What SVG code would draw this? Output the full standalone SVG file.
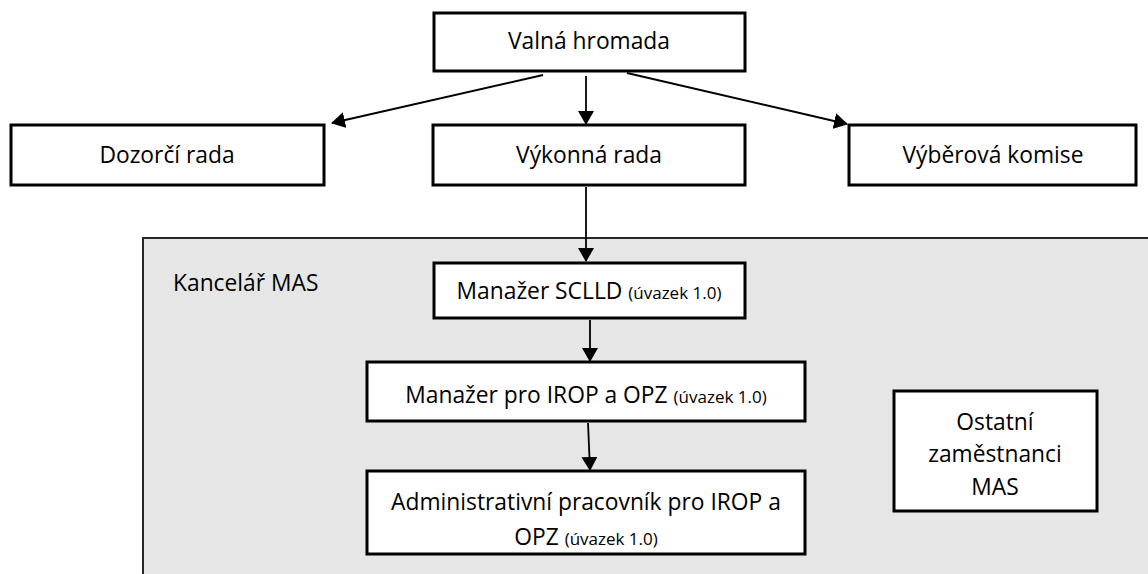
<svg xmlns="http://www.w3.org/2000/svg" width="1148" height="574" viewBox="0 0 1148 574">
<style>
.box{fill:#fff;stroke:#000;stroke-width:3}
.t{font-family:"Open Sans","Noto Sans",sans-serif;font-size:22.8px;fill:#000;text-anchor:middle}
.s{font-size:17px}
.c{stroke:#000;stroke-width:1.8;fill:none;marker-end:url(#ah)}
</style>
<defs>
<marker id="ah" markerWidth="14" markerHeight="16" refX="13" refY="8" orient="auto" markerUnits="userSpaceOnUse">
<path d="M0,0 L14,8 L0,16 Z" fill="#000"/>
</marker>
</defs>
<rect x="143" y="238" width="1010" height="345" fill="#e6e6e6" stroke="#262626" stroke-width="2"/>
<text x="173" y="291" class="t" style="text-anchor:start">Kancelář MAS</text>
<g id="valna"><rect class="box" x="434" y="13" width="311" height="58"/><text class="t" x="589" y="49">Valná hromada</text></g>
<g id="dozorci"><rect class="box" x="11" y="125" width="313" height="60"/><text class="t" x="167" y="163">Dozorčí rada</text></g>
<g id="vykonna"><rect class="box" x="433" y="125" width="312" height="60"/><text class="t" x="589" y="163">Výkonná rada</text></g>
<g id="vyberova"><rect class="box" x="849" y="125" width="287" height="60"/><text class="t" x="993" y="163">Výběrová komise</text></g>
<g id="sclld"><rect class="box" x="434" y="263" width="311" height="55"/><text class="t" x="589" y="299">Manažer SCLLD <tspan class="s">(úvazek 1.0)</tspan></text></g>
<g id="irop"><rect class="box" x="367" y="362" width="438" height="59"/><text class="t" x="586" y="403">Manažer pro IROP a OPZ <tspan class="s">(úvazek 1.0)</tspan></text></g>
<g id="admin"><rect class="box" x="367" y="471" width="438" height="83"/><text class="t" x="586" y="510">Administrativní pracovník pro IROP a</text><text class="t" x="586" y="545">OPZ <tspan class="s">(úvazek 1.0)</tspan></text></g>
<g id="ostatni"><rect class="box" x="894" y="391" width="203" height="120"/><text class="t" x="995" y="430">Ostatní</text><text class="t" x="995" y="462">zaměstnanci</text><text class="t" x="995" y="495">MAS</text></g>
<g id="connectors">
<line class="c" x1="586" y1="76" x2="586" y2="124"/>
<line class="c" x1="543" y1="75" x2="332" y2="123"/>
<line class="c" x1="627" y1="73" x2="847" y2="124"/>
<line class="c" x1="586" y1="187" x2="586" y2="261"/>
<line class="c" x1="590" y1="320" x2="590" y2="361"/>
<line class="c" x1="588" y1="423" x2="590" y2="470"/>
</g>
</svg>
